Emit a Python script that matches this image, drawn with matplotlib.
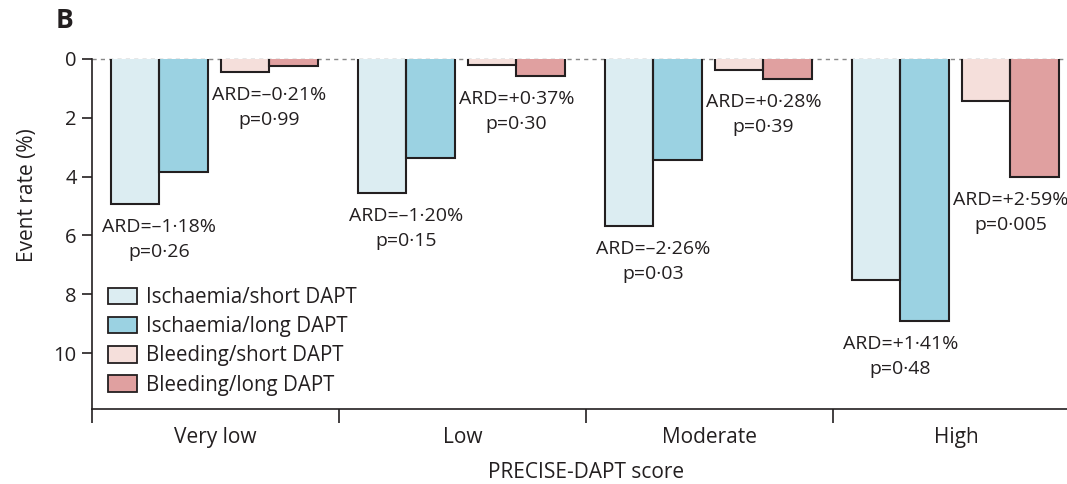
import matplotlib.pyplot as plt
import numpy as np

plt.rcParams['font.family'] = ['Open Sans', 'DejaVu Sans']

groups = ["Very low", "Low", "Moderate", "High"]
isch_short = [4.93, 4.55, 5.68, 7.50]
isch_long = [3.84, 3.37, 3.44, 8.91]
bleed_short = [0.45, 0.20, 0.38, 1.44]
bleed_long = [0.24, 0.57, 0.68, 4.02]
isch_text = [("–1·18%", "0·26"), ("–1·20%", "0·15"), ("–2·26%", "0·03"), ("+1·41%", "0·48")]
bleed_text = [("–0·21%", "0·99"), ("+0·37%", "0·30"), ("+0·28%", "0·39"), ("+2·59%", "0·005")]
labels = ["Ischaemia/short DAPT", "Ischaemia/long DAPT",
          "Bleeding/short DAPT", "Bleeding/long DAPT"]
colors = ["#dcedf2", "#9bd2e2", "#f5dfdb", "#e0a0a0"]

ink = "#231f20"
fig = plt.figure(figsize=(10.67, 4.84), dpi=100)
ax = fig.add_axes([92 / 1067, 1 - 409 / 484, 988 / 1067, 350 / 484])

w = 0.196
x = np.arange(len(groups))
offsets = [0.077, 0.077 + w, 0.522, 0.522 + w]
series = [isch_short, isch_long, bleed_short, bleed_long]

ax.axhline(0, color="#888888", lw=1, ls=(0, (3, 3)), zorder=0, clip_on=False)

for off, vals, col, lab in zip(offsets, series, colors, labels):
    ax.bar(x + off, vals, width=w, align="edge", color=col, lw=0,
           zorder=2, label=lab)
    for xi, v in zip(x + off, vals):
        ax.plot([xi, xi, xi + w, xi + w], [0, v, v, 0], color=ink,
                lw=1.5, zorder=3, solid_joinstyle="miter")

# ARD / p-value annotations under each pair
for i in range(len(groups)):
    for (a, b), (ard, p) in (((0, 1), isch_text[i]), ((2, 3), bleed_text[i])):
        xc = x[i] + offsets[a] + w
        ymax = max(series[a][i], series[b][i])
        ax.annotate(f"ARD={ard}\np={p}", (xc, ymax), xytext=(0, -10),
                    textcoords="offset points", ha="center", va="top",
                    fontsize=14, color=ink, linespacing=1.5,
                    annotation_clip=False, zorder=4)

ax.set_ylim(11.9, 0)
ax.set_xlim(0, 4)
ax.set_yticks(range(0, 11, 2))
ax.set_xticks([0, 1, 2, 3, 4])
ax.set_xticklabels([])
ax.set_xticks(x + 0.5, minor=True)
ax.set_xticklabels(groups, minor=True)
ax.tick_params(axis="x", which="major", length=10, width=1.2, color=ink)
ax.tick_params(axis="x", which="minor", length=0, pad=13, labelsize=15,
               labelcolor=ink)
ax.tick_params(axis="y", length=7, width=1.2, color=ink, labelsize=14.5,
               labelcolor=ink, pad=4)
for s in ("top", "right"):
    ax.spines[s].set_visible(False)
for s in ("left", "bottom"):
    ax.spines[s].set_color(ink)
    ax.spines[s].set_linewidth(1.2)

ax.set_ylabel("Event rate (%)", fontsize=15, color=ink)
ax.yaxis.set_label_coords(-0.055, 0.61)
ax.set_xlabel("PRECISE-DAPT score", fontsize=15, color=ink)
ax.xaxis.set_label_coords(0.5, -0.15)

leg = ax.legend(loc="upper left", bbox_to_anchor=(0.008, 0.372), frameon=False,
                fontsize=14.8, handlelength=1.4, handleheight=0.85,
                handletextpad=0.45, labelspacing=0.4, borderaxespad=0)
for h in leg.legend_handles:
    h.set_edgecolor(ink)
    h.set_linewidth(1.3)
for t in leg.get_texts():
    t.set_color(ink)

fig.text(65 / 1067, 1 - 20 / 484, "B", fontsize=19, fontweight="bold",
         color=ink, va="center", ha="center")

fig.savefig("out.png", dpi=100)
